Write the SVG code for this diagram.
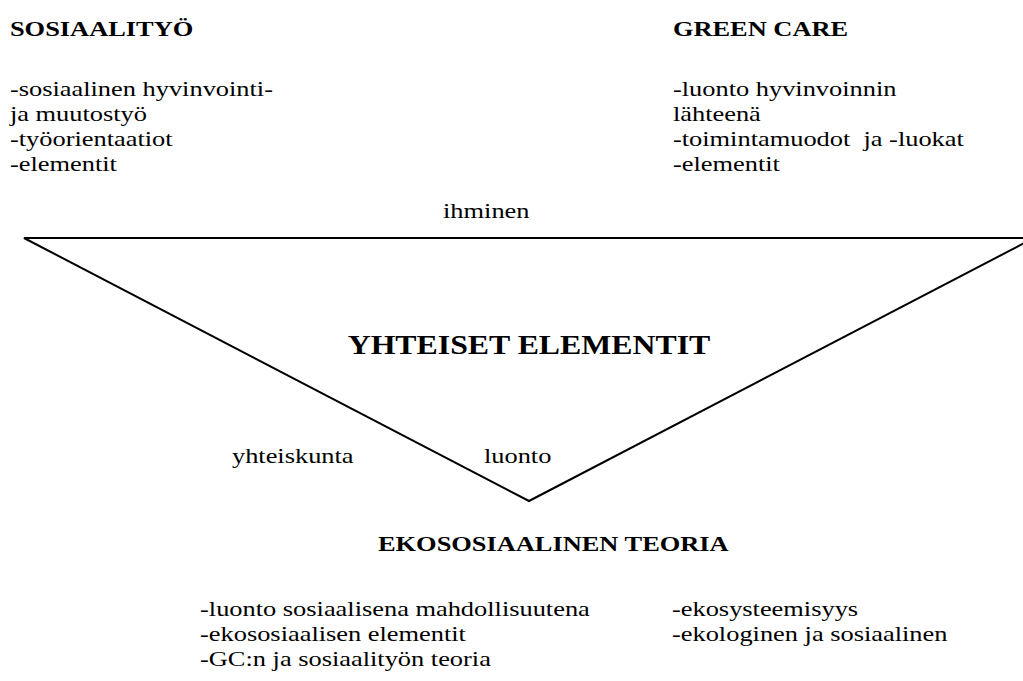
<svg xmlns="http://www.w3.org/2000/svg" width="1023" height="681" viewBox="0 0 1023 681">
<style>
text { font-family: "Liberation Serif", "Times New Roman", serif; font-size: 22px; fill: #000; }
.b { font-weight: bold; }
.big { font-weight: bold; font-size: 26.5px; }
.tri { fill: none; stroke: #000; stroke-width: 2; }
</style>
<rect width="1023" height="681" fill="#fff"/>
<g id="connectors">
<polygon class="tri" points="24,238 1034,238 529,501"/>
</g>
<g id="sosiaalityo" transform="scale(1.2 1)">
<text class="b" x="8.3" y="36">SOSIAALITYÖ</text>
<text x="8.3" y="96">-sosiaalinen hyvinvointi-</text>
<text x="8.3" y="121">ja muutostyö</text>
<text x="8.3" y="146">-työorientaatiot</text>
<text x="8.3" y="171">-elementit</text>
</g>
<g id="greencare" transform="scale(1.2 1)">
<text class="b" x="560.8" y="36">GREEN CARE</text>
<text x="560.8" y="96">-luonto hyvinvoinnin</text>
<text x="560.8" y="121">lähteenä</text>
<text x="560.8" y="146" xml:space="preserve">-toimintamuodot  ja -luokat</text>
<text x="560.8" y="171">-elementit</text>
</g>
<g id="triangle-labels" transform="scale(1.2 1)">
<text x="369.2" y="218">ihminen</text>
<text class="big" x="440.8" y="354" text-anchor="middle">YHTEISET ELEMENTIT</text>
<text x="193.3" y="463">yhteiskunta</text>
<text x="403.3" y="463">luonto</text>
</g>
<g id="ekososiaalinen" transform="scale(1.2 1)">
<text class="b" x="315" y="551">EKOSOSIAALINEN TEORIA</text>
<text x="166.7" y="616">-luonto sosiaalisena mahdollisuutena</text>
<text x="166.7" y="641">-ekososiaalisen elementit</text>
<text x="166.7" y="666">-GC:n ja sosiaalityön teoria</text>
<text x="560" y="616">-ekosysteemisyys</text>
<text x="560" y="641">-ekologinen ja sosiaalinen</text>
</g>
</svg>
